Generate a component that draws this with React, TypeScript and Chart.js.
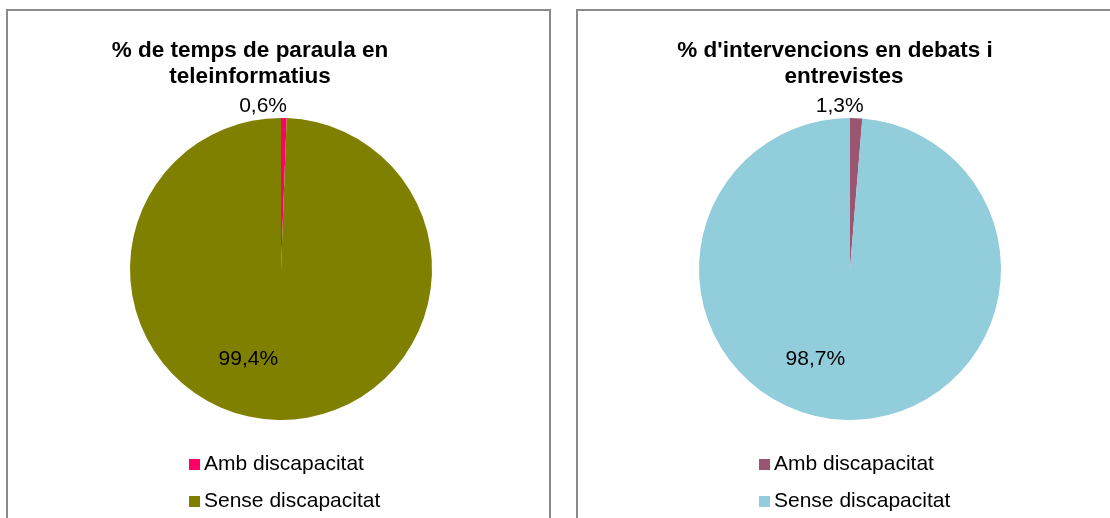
import React, { useEffect, useRef } from "react";
import { Chart, registerables } from "chart.js";

Chart.register(...registerables);

const categories = ["Amb discapacitat", "Sense discapacitat"];
const titleLeft = ["% de temps de paraula en", "teleinformatius"];
const titleRight = ["% d'intervencions en debats i", "entrevistes"];
const valuesLeft = [0.6, 99.4];
const valuesRight = [1.3, 98.7];
const colorsLeft = ["#FF0066", "#808000"];
const colorsRight = ["#9A5573", "#92CDDC"];

const FONT = "'Liberation Sans', Arial, Helvetica, sans-serif";

const fmt = (v: number) => v.toFixed(1).replace(".", ",") + "%";

const panelTextPlugin = {
  id: "panelText",
  afterDraw(chart: any, _args: any, opts: any) {
    const ctx = chart.ctx as CanvasRenderingContext2D;
    ctx.save();
    ctx.fillStyle = "#000000";
    // title
    ctx.font = `bold 22.5px ${FONT}`;
    ctx.textAlign = "center";
    ctx.textBaseline = "alphabetic";
    (opts.title as string[]).forEach((line, i) => {
      ctx.fillText(line, opts.titleX[i], opts.titleY + i * opts.titleLineHeight);
    });
    // data labels
    const meta = chart.getDatasetMeta(0);
    const ds = chart.data.datasets[0];
    ctx.font = `21px ${FONT}`;
    ctx.textBaseline = "middle";
    meta.data.forEach((arc: any, i: number) => {
      const p = arc.getProps(["x", "y", "startAngle", "endAngle", "outerRadius"], true);
      const mid = (p.startAngle + p.endAngle) / 2;
      const dist = i === 0 ? p.outerRadius + 12 : p.outerRadius * 0.6;
      const x = p.x + Math.cos(mid) * dist + opts.labelShift[i];
      const y = p.y + Math.sin(mid) * dist;
      ctx.fillText(fmt(ds.data[i]), x, y);
    });
    // legend
    ctx.textAlign = "left";
    const labels = chart.data.labels as string[];
    labels.forEach((lab, i) => {
      const cy = opts.legendY + i * opts.legendGap;
      ctx.fillStyle = ds.backgroundColor[i];
      ctx.fillRect(opts.legendX, cy - 5, 11, 11);
      ctx.fillStyle = "#000000";
      ctx.fillText(lab, opts.legendX + 15, cy);
    });
    ctx.restore();
  },
};

type PanelProps = {
  left: number;
  width: number;
  rightBorder: boolean;
  title: string[];
  titleX: number[];
  values: number[];
  colors: string[];
  padding: { left: number; right: number; top: number; bottom: number };
  labelShift: number[];
};

function Panel(props: PanelProps) {
  const ref = useRef<HTMLCanvasElement | null>(null);
  const innerW = props.width - 2 - (props.rightBorder ? 2 : 0);
  const innerH = 507;
  useEffect(() => {
    if (!ref.current) return;
    const chart = new Chart(ref.current, {
      type: "pie",
      data: {
        labels: categories,
        datasets: [
          {
            data: props.values,
            backgroundColor: props.colors,
            borderWidth: 0,
          },
        ],
      },
      options: {
        responsive: false,
        animation: false,
        layout: { padding: props.padding },
        plugins: {
          legend: { display: false },
          title: { display: false },
          tooltip: { enabled: false },
          // @ts-ignore
          panelText: {
            title: props.title,
            titleX: props.titleX,
            titleY: 46,
            titleLineHeight: 26,
            labelShift: props.labelShift,
            legendX: 181,
            legendY: 453,
            legendGap: 37,
          },
        },
      },
      plugins: [panelTextPlugin as any],
    });
    return () => chart.destroy();
  }, []);
  return (
    <div
      style={{
        position: "absolute",
        left: props.left,
        top: 9,
        width: props.width,
        height: 509,
        boxSizing: "border-box",
        borderTop: "2px solid #8a8a8a",
        borderLeft: "2px solid #8a8a8a",
        borderRight: props.rightBorder ? "2px solid #8a8a8a" : "none",
        borderBottom: "none",
        background: "#ffffff",
        overflow: "hidden",
      }}
    >
      <canvas ref={ref} width={innerW} height={innerH} style={{ display: "block", width: innerW, height: innerH }} />
    </div>
  );
}

export default function App() {
  return (
    <div>
      <Panel
        left={6}
        width={545}
        rightBorder={true}
        title={titleLeft}
        titleX={[242, 242]}
        values={valuesLeft}
        colors={colorsLeft}
        padding={{ left: 122, right: 117, top: 107, bottom: 98 }}
        labelShift={[-21, -31]}
      />
      <Panel
        left={576}
        width={534}
        rightBorder={false}
        title={titleRight}
        titleX={[257, 266]}
        values={valuesRight}
        colors={colorsRight}
        padding={{ left: 121, right: 109, top: 107, bottom: 98 }}
        labelShift={[-17, -31]}
      />
    </div>
  );
}
